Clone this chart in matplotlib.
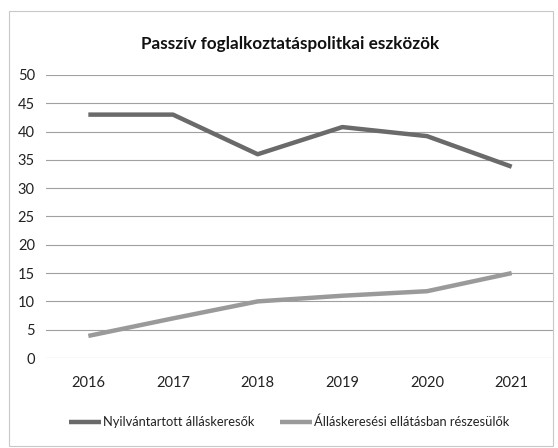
import matplotlib
matplotlib.use("Agg")
import matplotlib.pyplot as plt
from matplotlib.patches import Rectangle

years = ["2016", "2017", "2018", "2019", "2020", "2021"]
nyilvantartott = [43, 43, 36, 40.8, 39.2, 33.8]
ellatasban = [3.9, 7, 10, 11, 11.8, 15]
series_names = ["Nyilvántartott álláskeresők", "Álláskeresési ellátásban részesülők"]
title = "Passzív foglalkoztatáspolitkai eszközök"

plt.rcParams['font.family'] = ['Lato', 'DejaVu Sans']

fig = plt.figure(figsize=(5.58, 4.48), dpi=100)
fig.patch.set_facecolor("white")
fig.patches.append(Rectangle((9/558, 2/448), 544/558, 435/448, transform=fig.transFigure,
                             fill=False, edgecolor="#c8c8c8", linewidth=0.8))

ax = fig.add_axes([46/558, 90/448, 508/558, 283/448])
x = list(range(len(years)))
ax.plot(x, nyilvantartott, color="#6a6a6a", linewidth=3.2, solid_capstyle="butt", label=series_names[0])
ax.plot(x, ellatasban, color="#9a9a9a", linewidth=3.2, solid_capstyle="butt", label=series_names[1])

ax.set_xlim(-0.5, len(years) - 0.5)
ax.set_ylim(0, 50)
ax.set_yticks(range(0, 51, 5))
ax.set_xticks(x)
ax.set_xticklabels(years)
ax.grid(axis="y", color="#a0a0a0", linewidth=0.8)
ax.set_axisbelow(True)
for s in ax.spines.values():
    s.set_visible(False)
ax.tick_params(length=0, labelsize=10.5, colors="#222222")
ax.tick_params(axis="y", pad=8)
ax.tick_params(axis="x", pad=13)

fig.text(290/558, 1 - 44/448, title, ha="center", va="center", fontsize=12.3, fontweight="bold", color="#111111")

leg = fig.legend(loc="center", bbox_to_anchor=(289/558, 1 - 422/448), ncol=2, frameon=False,
                 fontsize=9.3, handlelength=2.5, handletextpad=0.15, columnspacing=2.0,
                 borderpad=0, borderaxespad=0)
for t in leg.get_texts():
    t.set_color("#222222")

fig.savefig("out.png", dpi=100)
